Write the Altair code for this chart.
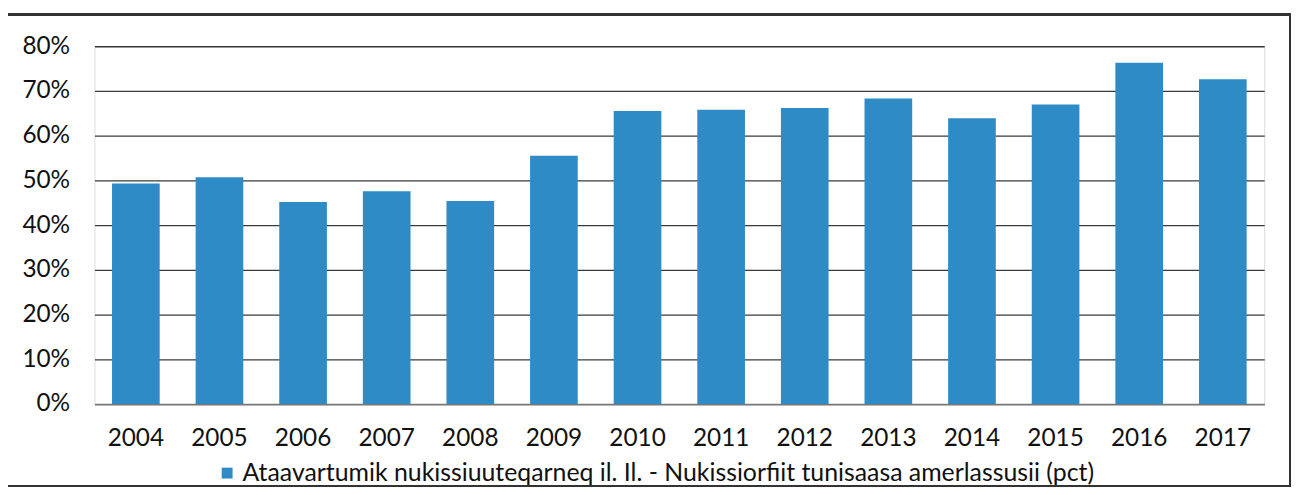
import altair as alt
import pandas as pd

years = ["2004", "2005", "2006", "2007", "2008", "2009", "2010",
         "2011", "2012", "2013", "2014", "2015", "2016", "2017"]
values = [0.493, 0.507, 0.452, 0.476, 0.454, 0.555, 0.655,
          0.658, 0.662, 0.683, 0.639, 0.670, 0.763, 0.726]
series_name = "Ataavartumik nukissiuuteqarneq il. Il. - Nukissiorfiit tunisaasa amerlassusii (pct)"
y_ticks = [0, 0.1, 0.2, 0.3, 0.4, 0.5, 0.6, 0.7, 0.8]

df = pd.DataFrame({"year": years, "value": values, "series": [series_name] * len(years)})

FONT = "Lato"
W, H = 1177, 360

bars = alt.Chart(df).mark_bar(color="#2e8bc6").encode(
    x=alt.X("year:N", sort=years,
            scale=alt.Scale(paddingInner=0.43, paddingOuter=0.21),
            axis=alt.Axis(title=None, labelAngle=0, labelFontSize=24.5, labelFont=FONT,
                          labelColor="#111", labelPadding=23, ticks=False,
                          domain=True, domainColor="#777", domainWidth=1.5)),
    y=alt.Y("value:Q", scale=alt.Scale(domain=[0, 0.8], nice=False),
            axis=alt.Axis(title=None, values=y_ticks, format=".0%", labelFontSize=24.5,
                          labelFont=FONT, labelColor="#111", labelPadding=25,
                          ticks=False, domain=False, grid=True, gridColor="#3a3a3a",
                          gridWidth=1.3)),
    color=alt.Color("series:N", scale=alt.Scale(range=["#2e8bc6"]),
                    legend=alt.Legend(title=None, orient="none", legendX=121, legendY=417,
                                      symbolType="square", symbolSize=120, labelOffset=3,
                                      labelFontSize=25, labelFont=FONT, labelColor="#111",
                                      labelLimit=1200, symbolStrokeWidth=0)),
)

frame = alt.Chart(df).mark_rect(fill=None, stroke="#333", strokeWidth=1.5, clip=False).encode(
    x=alt.value(-89), x2=alt.value(1203), y=alt.value(-32), y2=alt.value(443)
)

chart = alt.layer(bars, frame).properties(
    width=W, height=H,
    autosize=alt.AutoSizeParams(type="none"),
    padding={"left": 87, "top": 37, "right": 31, "bottom": 82},
).configure_view(stroke=None).configure(background="white")

chart.save("out.html", embed_options={"renderer": "svg", "actions": False})
